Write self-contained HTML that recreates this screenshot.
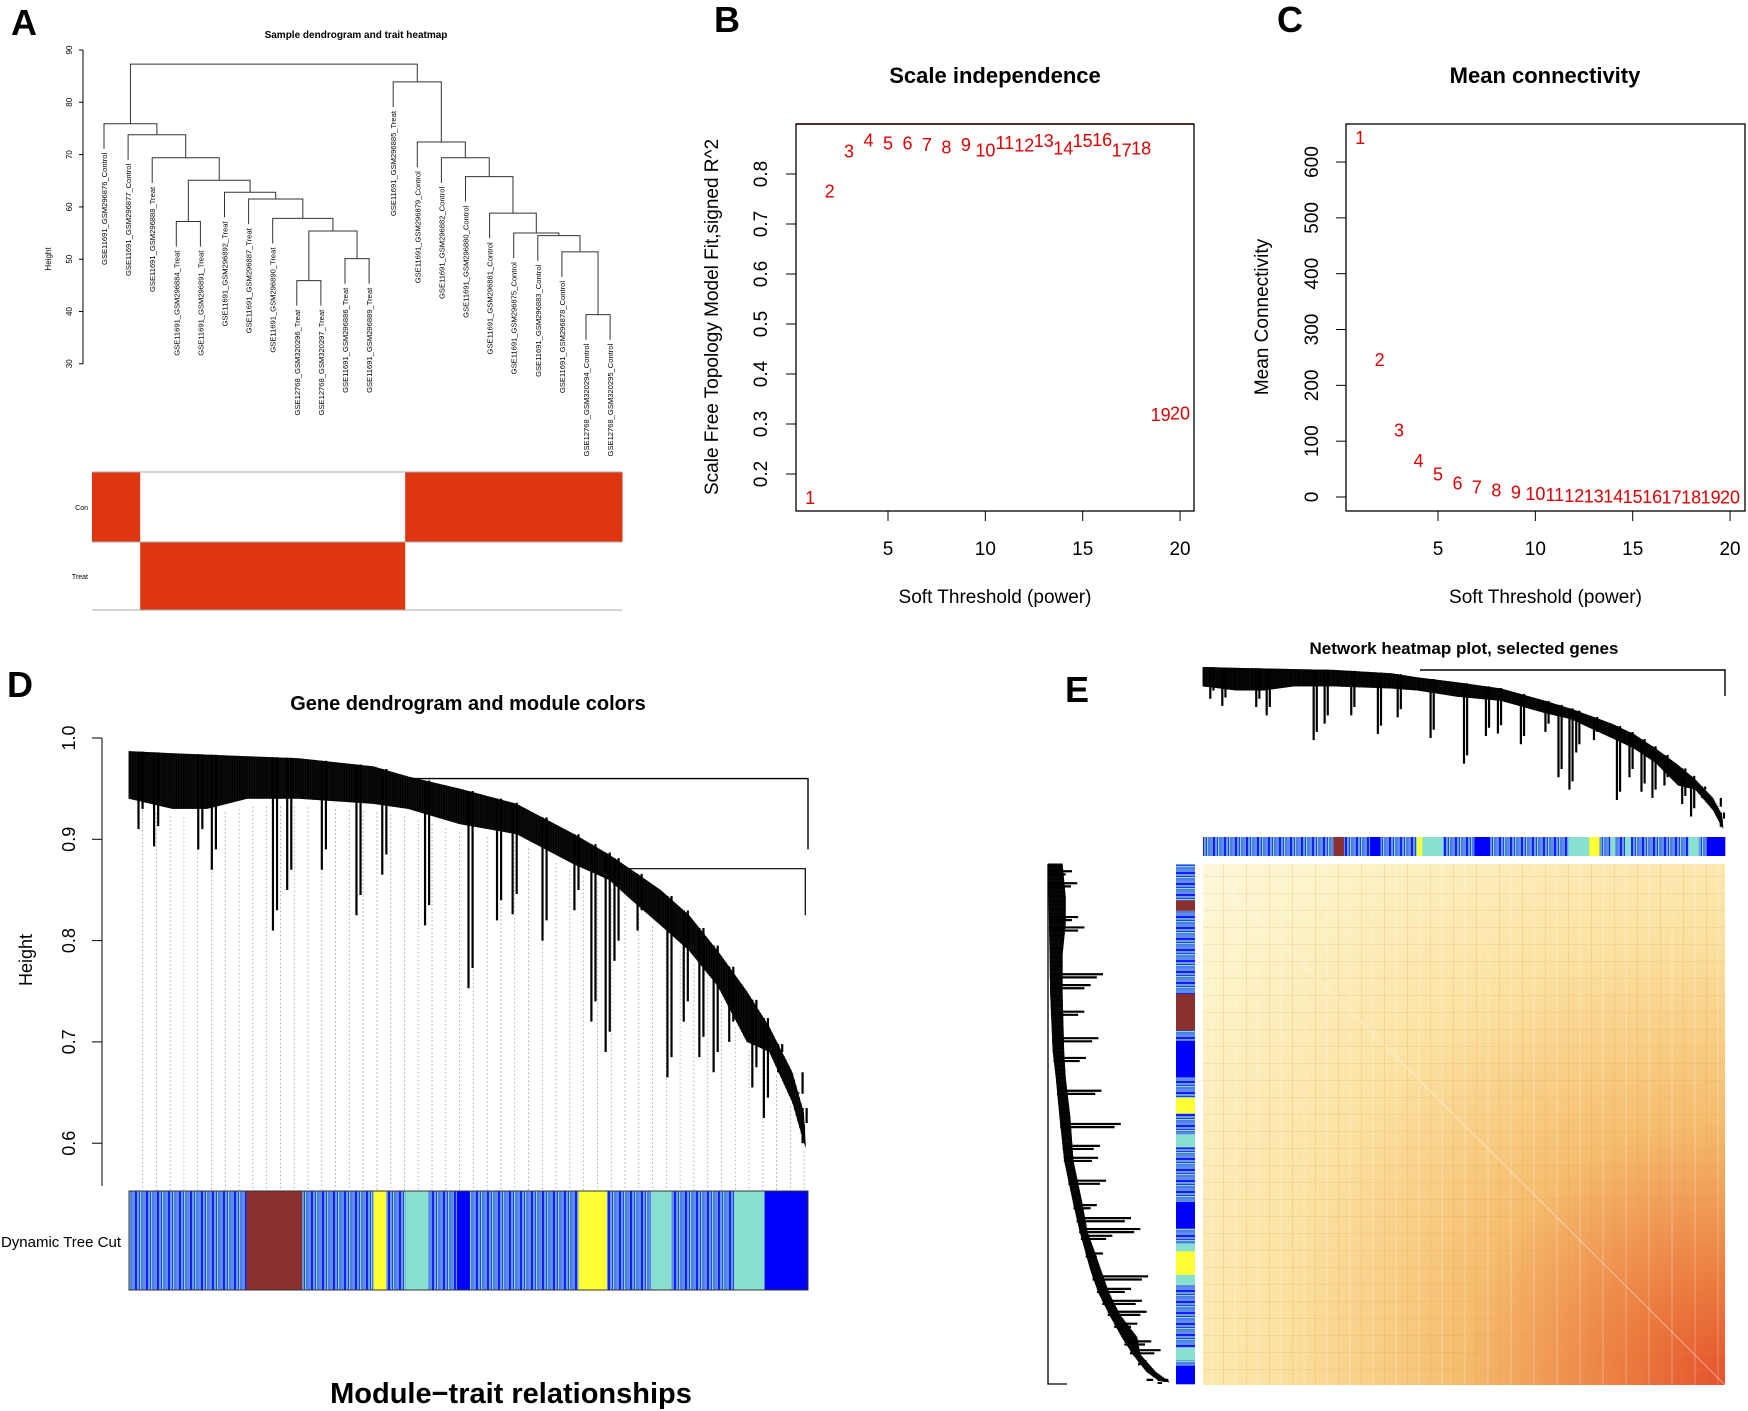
<!DOCTYPE html>
<html><head><meta charset="utf-8"><style>
html,body{margin:0;padding:0;background:#fff;}
svg{display:block;font-family:"Liberation Sans",Arial,sans-serif;}
</style></head><body>
<svg id="fig" width="1748" height="1411" viewBox="0 0 1748 1411" xmlns="http://www.w3.org/2000/svg">
<defs>
<pattern id="mix" x="0" y="0" width="11" height="10" patternUnits="userSpaceOnUse">
<rect x="0" y="0" width="3" height="10" fill="#5a8ee8"/><rect x="3" y="0" width="2" height="10" fill="#1a1aff"/><rect x="5" y="0" width="2" height="10" fill="#64a0e0"/><rect x="7" y="0" width="1" height="10" fill="#2a3cf0"/><rect x="8" y="0" width="1" height="10" fill="#86d8d0"/><rect x="9" y="0" width="2" height="10" fill="#4f7de6"/>
</pattern>
<pattern id="mixh" x="0" y="0" width="10" height="11" patternUnits="userSpaceOnUse">
<rect y="0" x="0" height="3" width="10" fill="#5a8ee8"/><rect y="3" x="0" height="2" width="10" fill="#1a1aff"/><rect y="5" x="0" height="2" width="10" fill="#64a0e0"/><rect y="7" x="0" height="1" width="10" fill="#2a3cf0"/><rect y="8" x="0" height="1" width="10" fill="#86d8d0"/><rect y="9" x="0" height="2" width="10" fill="#4f7de6"/>
</pattern>
<radialGradient id="hm" cx="1" cy="1" r="1.45" fx="1" fy="1">
<stop offset="0" stop-color="#e4522c"/><stop offset="0.14" stop-color="#eb7d40"/><stop offset="0.35" stop-color="#f5bd6e"/><stop offset="0.6" stop-color="#fbe2a2"/><stop offset="0.85" stop-color="#fdf3c8"/><stop offset="1" stop-color="#fef8dc"/>
</radialGradient>
<pattern id="hmlines" width="23" height="17" patternUnits="userSpaceOnUse">
<rect x="4" y="0" width="1" height="17" fill="#e08a3c" opacity="0.18"/><rect x="15" y="0" width="2" height="17" fill="#fff" opacity="0.15"/><rect x="0" y="9" width="23" height="1" fill="#e08a3c" opacity="0.15"/>
</pattern>
</defs>
<g id="panelA"></g>
<g id="panelB"></g>
<g id="panelC"></g>
<g id="panelD"></g>
<g id="panelE"></g>
</svg>
<script>
// ---------- Panel B/C data ----------
const powers = [1,2,3,4,5,6,7,8,9,10,11,12,13,14,15,16,17,18,19,20];
const sftR2 = [0.154,0.767,0.847,0.869,0.863,0.863,0.86,0.855,0.86,0.849,0.864,0.859,0.868,0.853,0.868,0.870,0.849,0.853,0.32,0.323];
const meanK = [645,247,121,66,42,26,19,13,10,7,5,4,3,2.5,2,1.5,1.2,1,0.8,0.6];
const bYTicks = [0.2,0.3,0.4,0.5,0.6,0.7,0.8];
const cYTicks = [0,100,200,300,400,500,600];
const xTicks = [5,10,15,20];
// ---------- Panel A data ----------
const sampleLabels = ["GSE11691_GSM296876_Control","GSE11691_GSM296877_Control","GSE11691_GSM296888_Treat","GSE11691_GSM296884_Treat","GSE11691_GSM296891_Treat","GSE11691_GSM296892_Treat","GSE11691_GSM296887_Treat","GSE11691_GSM296890_Treat","GSE12768_GSM320296_Treat","GSE12768_GSM320297_Treat","GSE11691_GSM296886_Treat","GSE11691_GSM296889_Treat","GSE11691_GSM296885_Treat","GSE11691_GSM296879_Control","GSE11691_GSM296882_Control","GSE11691_GSM296880_Control","GSE11691_GSM296881_Control","GSE11691_GSM296875_Control","GSE11691_GSM296883_Control","GSE11691_GSM296878_Control","GSE12768_GSM320294_Control","GSE12768_GSM320295_Control"];
const mergeLeft  = ["L8","L10","M0","L7","L6","L5","L3","M6","L2","L1","L0","L20","L19","L18","L17","L16","L15","L14","L13","L12","M10"];
const mergeRight = ["L9","L11","M1","M2","M3","M4","L4","M5","M7","M8","M9","L21","M11","M12","M13","M14","M15","M16","M17","M18","M19"];
const mergeHeight = [45.9,50.1,55.4,57.8,61.5,62.8,57.2,65.1,69.4,73.8,75.9,39.4,51.4,54.5,55.0,58.8,65.8,69.4,72.4,83.9,87.3];
const aYTicks = [30,40,50,60,70,80,90];
const traitCon = [1,1,0,0,0,0,0,0,0,0,0,0,0,1,1,1,1,1,1,1,1,1];
// ---------- Panel D data (gene order fraction, height) ----------
const envTopF = [0,.064,.174,.25,.36,.411,.487,.571,.656,.707,.74,.783,.825,.867,.91,.943,.977,.994,.997];
const envTopH = [.987,.985,.982,.980,.972,.962,.950,.935,.905,.885,.870,.850,.825,.790,.750,.715,.670,.630,.595];
const envBotF = [0,.064,.115,.174,.25,.36,.411,.487,.571,.656,.707,.74,.783,.825,.867,.91,.943,.977,.994];
const envBotH = [.94,.93,.93,.94,.94,.935,.93,.915,.905,.875,.86,.84,.815,.79,.755,.70,.69,.64,.60];
const spikeF = [.014,.037,.102,.122,.212,.233,.284,.335,.373,.436,.5,.542,.565,.609,.656,.681,.702,.715,.749,.793,.817,.84,.861,.884,.918,.935,.956,.986,.992];
const spikeH = [.91,.893,.89,.87,.81,.85,.87,.825,.865,.815,.753,.82,.826,.80,.83,.72,.69,.78,.81,.665,.72,.685,.67,.70,.655,.625,.67,.65,.60];
const modStart = [0,.173,.255,.360,.379,.407,.441,.483,.502,.662,.704,.769,.799,.862,.892,.936];
const modEnd   = [.173,.255,.360,.379,.407,.441,.483,.502,.662,.704,.769,.799,.862,.892,.936,1];
const modColor = ["mix","brown","mix","yellow","mix","turquoise","mix","blue","mix","yellow","mix","turquoise","mix","mix","turquoise","blue"];
// ---------- Panel E color bar data ----------
const eModStart = [0,.25,.27,.32,.34,.41,.42,.46,.52,.55,.62,.70,.74,.76,.78,.79,.81,.82,.93,.95,.965];
const eModEnd   = [.25,.27,.32,.34,.41,.42,.46,.52,.55,.62,.70,.74,.76,.78,.79,.81,.82,.93,.95,.965,1];
const eModColor = ["mix","brown","mix","blue","mix","yellow","turquoise","mix","blue","mix","mix","turquoise","yellow","mix","turquoise","mix","turquoise","mix","turquoise","mix","blue"];
const eSideStart = [0,.07,.09,.25,.32,.34,.41,.45,.48,.52,.545,.65,.70,.73,.745,.79,.81,.93,.955,.965];
const eSideEnd   = [.07,.09,.25,.32,.34,.41,.45,.48,.52,.545,.65,.70,.73,.745,.79,.81,.93,.955,.965,1];
const eSideColor = ["mix","brown","mix","brown","mix","blue","mix","yellow","mix","turquoise","mix","blue","mix","turquoise","yellow","turquoise","mix","turquoise","mix","blue"];

const NS="http://www.w3.org/2000/svg";
const colorMap={mix:"url(#mix)",brown:"#8c2f2f",yellow:"#ffff33",turquoise:"#8ae0d0",blue:"#0000ff"};
function mk(parent,tag,attrs,text){const e=document.createElementNS(NS,tag);for(const k in attrs)e.setAttribute(k,attrs[k]);if(text!==undefined)e.textContent=text;parent.appendChild(e);return e;}
function interp(fs,hs,f){if(f<=fs[0])return hs[0];for(let i=1;i<fs.length;i++){if(f<=fs[i]){const t=(f-fs[i-1])/(fs[i]-fs[i-1]);return hs[i-1]+t*(hs[i]-hs[i-1]);}}return hs[hs.length-1];}

// ================= Panel A =================
(function(){
const g=document.getElementById('panelA');
let t=mk(g,'text',{x:24,y:35,'font-size':36,'font-weight':'bold','text-anchor':'middle'},'A');

t=mk(g,'text',{x:356,y:38,'font-size':10,'font-weight':'bold','text-anchor':'middle'},'Sample dendrogram and trait heatmap');

const yA=v=>50+(90-v)*5.23;
const xA=i=>104+i*24.1;
const ax=mk(g,'line',{x1:83,y1:yA(30),x2:83,y2:yA(90),stroke:'#000','stroke-width':1});

aYTicks.forEach(v=>{mk(g,'line',{x1:79,y1:yA(v),x2:83,y2:yA(v),stroke:'#000'});
 const l=mk(g,'text',{x:72,y:yA(v),'font-size':8,'text-anchor':'middle',transform:`rotate(-90 72 ${yA(v)})`},String(v));
 });
t=mk(g,'text',{x:51,y:259,'font-size':8,'text-anchor':'middle',transform:'rotate(-90 51 259)'},'Height');

const pos={},ht={};
const hang=4.8;
for(let i=0;i<sampleLabels.length;i++){pos['L'+i]=xA(i);}
const leafTop={};
mergeLeft.forEach((a,k)=>{[a,mergeRight[k]].forEach(n=>{if(n[0]==='L')leafTop[n]=mergeHeight[k];});});
for(let i=0;i<sampleLabels.length;i++){ht['L'+i]=leafTop['L'+i]-hang;}
for(let k=0;k<mergeLeft.length;k++){
 const a=mergeLeft[k],b=mergeRight[k],h=mergeHeight[k];
 const xa=pos[a],xb=pos[b];
 const p=mk(g,'path',{d:`M${xa},${yA(ht[a])}V${yA(h)}H${xb}V${yA(ht[b])}`,fill:'none',stroke:'#333','stroke-width':1});
 
 pos['M'+k]=(xa+xb)/2;ht['M'+k]=h;
}
sampleLabels.forEach((s,i)=>{const x=xA(i)+3,y=yA(ht['L'+i])+4;
 const l=mk(g,'text',{x:x,y:y,'font-size':7.6,'text-anchor':'end',transform:`rotate(-90 ${x} ${y})`},s);
 });
const hx0=92,hx1=622,cw=(hx1-hx0)/sampleLabels.length;
traitCon.forEach((c,i)=>{
 const r1=mk(g,'rect',{x:hx0+i*cw,y:472,width:cw+0.5,height:70,fill:c?'#dd3611':'#fff'});
 
 const r2=mk(g,'rect',{x:hx0+i*cw,y:542,width:cw+0.5,height:68,fill:c?'#fff':'#dd3611'});
 
});
mk(g,'line',{x1:hx0,y1:472,x2:hx1,y2:472,stroke:'#aaa'});mk(g,'line',{x1:hx0,y1:542,x2:hx1,y2:542,stroke:'#aaa'});mk(g,'line',{x1:hx0,y1:610,x2:hx1,y2:610,stroke:'#aaa'});
t=mk(g,'text',{x:88,y:510,'font-size':7,'text-anchor':'end'},'Con');
t=mk(g,'text',{x:88,y:579,'font-size':7,'text-anchor':'end'},'Treat');
})();

// ================= Panels B & C =================
function scatterPanel(gid,letter,letterX,title,titleX,x0,x1,xOrigin,yFn,vals,yTicks,yLab,yLabX,tickLabX,tickFmt,refLine){
 const g=document.getElementById(gid);
 let t=mk(g,'text',{x:letterX,y:32,'font-size':36,'font-weight':'bold','text-anchor':'middle'},letter);
 
 t=mk(g,'text',{x:titleX,y:83,'font-size':22,'font-weight':'bold','text-anchor':'middle'},title);
 
 const xS=p=>xOrigin+(p-5)*19.47;
 if(refLine!==null){const l=mk(g,'line',{x1:x0,y1:yFn(refLine),x2:x1,y2:yFn(refLine),stroke:'#d00','stroke-width':1.5});}
 const box=mk(g,'rect',{x:x0,y:124,width:x1-x0,height:387,fill:'none',stroke:'#000','stroke-width':1.3});
 
 xTicks.forEach(v=>{mk(g,'line',{x1:xS(v),y1:511,x2:xS(v),y2:521,stroke:'#000'});
  const l=mk(g,'text',{x:xS(v),y:555,'font-size':19,'text-anchor':'middle'},String(v));
  });
 yTicks.forEach(v=>{mk(g,'line',{x1:x0-10,y1:yFn(v),x2:x0,y2:yFn(v),stroke:'#000'});
  const l=mk(g,'text',{x:tickLabX,y:yFn(v),'font-size':19,'text-anchor':'middle',transform:`rotate(-90 ${tickLabX} ${yFn(v)})`},tickFmt(v));
  });
 t=mk(g,'text',{x:(x0+x1)/2,y:603,'font-size':19,'text-anchor':'middle'},'Soft Threshold (power)');
 
 t=mk(g,'text',{x:yLabX,y:317,'font-size':19,'text-anchor':'middle',transform:`rotate(-90 ${yLabX} 317)`},yLab);
 
 powers.forEach((p,i)=>{const l=mk(g,'text',{x:xS(p),y:yFn(vals[i])+7,'font-size':18,fill:'#e00000','text-anchor':'middle'},String(p));
  });
}
scatterPanel('panelB','B',727,'Scale independence',995,796,1194,888,v=>174+(0.8-v)*500,sftR2,bYTicks,'Scale Free Topology Model Fit,signed R^2',718,767,v=>v.toFixed(1),0.9);
scatterPanel('panelC','C',1290,'Mean connectivity',1545,1346,1745,1438,v=>497-v*0.5583,meanK,cYTicks,'Mean Connectivity',1268,1318,v=>String(v),null);

// ================= Dendrogram helper =================
function drawDendro(g,posOf,hOf,vertical,name,links){
 const P=(f,h)=>vertical?[posOf(f),hOf(h)]:[hOf(h),posOf(f)];
 let d='';
 envTopF.forEach((f,i)=>{const p=P(f,envTopH[i]);d+=(i?'L':'M')+p[0]+','+p[1];});
 for(let i=envBotF.length-1;i>=0;i--){const p=P(envBotF[i],envBotH[i]);d+='L'+p[0]+','+p[1];}
 const poly=mk(g,'path',{d:d+'Z',fill:'#111'});
 
 let hd='';
 for(let f=0;f<=0.995;f+=0.0025){const top=interp(envTopF,envTopH,f),bot=interp(envBotF,envBotH,f);
  const a=P(f,top),b=P(f,bot);hd+=`M${a[0]},${a[1]}L${b[0]},${b[1]}`;}
 const hp=mk(g,'path',{d:hd,stroke:'#000','stroke-width':0.9,fill:'none'});
 
 spikeF.forEach((f,i)=>{const top=interp(envTopF,envTopH,f);
  const a=P(f,top),b=P(f,spikeH[i]),a2=P(f+0.006,top),b2=P(f+0.006,spikeH[i]+0.02);
  const s=mk(g,'path',{d:`M${a[0]},${a[1]}L${b[0]},${b[1]}M${a2[0]},${a2[1]}L${b2[0]},${b2[1]}`,stroke:'#000','stroke-width':2.2,fill:'none'});
  });
 if(!links)return;
 const r=[P(0.411,0.96),P(1,0.96),P(1,0.89)];
 let l=mk(g,'path',{d:`M${r[0][0]},${r[0][1]}L${r[1][0]},${r[1][1]}L${r[2][0]},${r[2][1]}`,stroke:'#000','stroke-width':1.4,fill:'none'});
 
 const q=[P(0.73,0.871),P(0.996,0.871),P(0.996,0.825)];
 l=mk(g,'path',{d:`M${q[0][0]},${q[0][1]}L${q[1][0]},${q[1][1]}L${q[2][0]},${q[2][1]}`,stroke:'#000','stroke-width':1.2,fill:'none'});
 
}
function colorBar(g,starts,ends,cols,posOf,a0,a1,vertical,name){
 starts.forEach((s,i)=>{const p0=posOf(s),p1=posOf(ends[i]);
  const fill=cols[i]==='mix'?(vertical?'url(#mix)':'url(#mixh)'):colorMap[cols[i]];
  const at=vertical?{x:p0,y:a0,width:p1-p0+0.3,height:a1-a0,fill:fill}:{x:a0,y:p0,width:a1-a0,height:p1-p0+0.3,fill:fill};
  const r=mk(g,'rect',at);});
}

// ================= Panel D =================
(function(){
const g=document.getElementById('panelD');
let t=mk(g,'text',{x:20,y:697,'font-size':36,'font-weight':'bold','text-anchor':'middle'},'D');

t=mk(g,'text',{x:468,y:710,'font-size':20,'font-weight':'bold','text-anchor':'middle'},'Gene dendrogram and module colors');

const yD=h=>738+(1-h)*1013;
const xD=f=>129+f*679;
const ax=mk(g,'line',{x1:102,y1:738,x2:102,y2:1186,stroke:'#000'});
[0.6,0.7,0.8,0.9,1.0].forEach(v=>{mk(g,'line',{x1:92,y1:yD(v),x2:102,y2:yD(v),stroke:'#000'});
 const l=mk(g,'text',{x:75,y:yD(v),'font-size':18,'text-anchor':'middle',transform:`rotate(-90 75 ${yD(v)})`},v.toFixed(1));
 });
t=mk(g,'text',{x:32,y:960,'font-size':18,'text-anchor':'middle',transform:'rotate(-90 32 960)'},'Height');

let dd='';
for(let f=0.02;f<=1.0;f+=0.0203){const b=interp(envBotF,envBotH,f);dd+=`M${xD(f)},${yD(b)+8}V1190`;}
const dl=mk(g,'path',{d:dd,stroke:'#999','stroke-width':0.8,'stroke-dasharray':'1.5,2.5',fill:'none'});

drawDendro(g,xD,yD,true,'gene-dendrogram',true);
colorBar(g,modStart,modEnd,modColor,xD,1191,1290,true,'module-color-bar');
mk(g,'rect',{x:129,y:1191,width:679,height:99,fill:'none',stroke:'#333'});
t=mk(g,'text',{x:121,y:1247,'font-size':15,'text-anchor':'end'},'Dynamic Tree Cut');

t=mk(g,'text',{x:511,y:1403,'font-size':29,'font-weight':'bold','text-anchor':'middle'},'Module\u2212trait relationships');

})();

// ================= Panel E =================
(function(){
const g=document.getElementById('panelE');
let t=mk(g,'text',{x:1077,y:702,'font-size':36,'font-weight':'bold','text-anchor':'middle'},'E');

t=mk(g,'text',{x:1464,y:654,'font-size':17,'font-weight':'bold','text-anchor':'middle'},'Network heatmap plot, selected genes');

const xE=f=>1203+f*522;
const yTop=h=>667+(0.987-h)*413;
drawDendro(g,xE,yTop,true,'top-dendrogram',false);
const rl=mk(g,'path',{d:'M1420,670H1725V696',stroke:'#000','stroke-width':1.4,fill:'none'});

colorBar(g,eModStart,eModEnd,eModColor,xE,837,856,true,'top-color-bar');
const yE=f=>864+f*520;
const xLeft=h=>1048+(0.987-h)*311;
drawDendro(g,yE,xLeft,false,'side-dendrogram',false);
const stub=mk(g,'path',{d:'M1048,864V1384H1067',stroke:'#000','stroke-width':1.3,fill:'none'});

colorBar(g,eSideStart,eSideEnd,eSideColor,yE,1176,1195,false,'side-color-bar');
const hm=mk(g,'rect',{x:1203,y:864,width:522,height:521,fill:'url(#hm)'});

const hl=mk(g,'rect',{x:1203,y:864,width:522,height:521,fill:'url(#hmlines)'});

const dg=mk(g,'line',{x1:1203,y1:864,x2:1725,y2:1385,stroke:'#fff','stroke-width':1,opacity:0.4});

})();
</script>
</body></html>
